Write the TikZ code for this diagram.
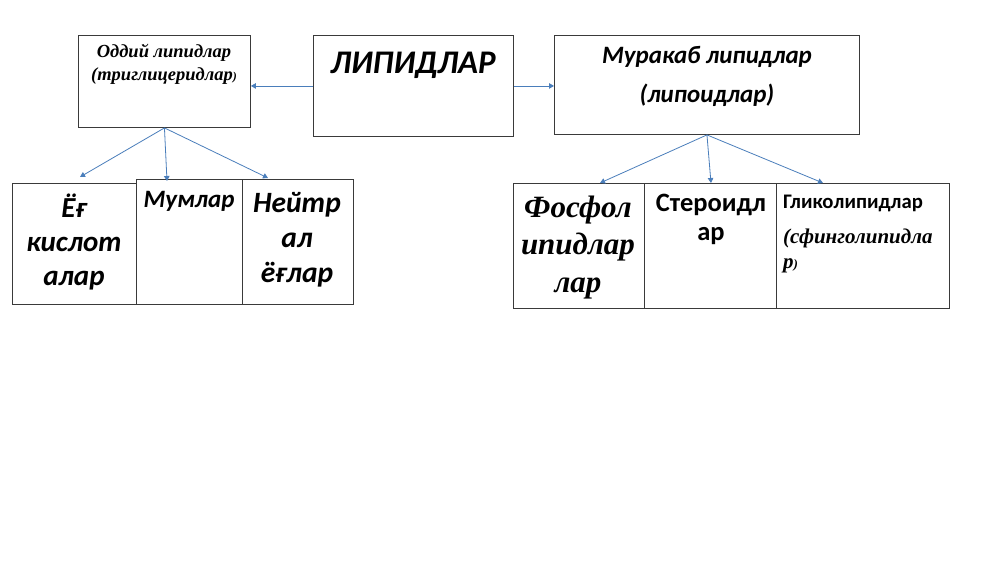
\documentclass[tikz,border=0pt]{standalone}
\usepackage{fontspec}
\setmainfont{Liberation Serif}
\newfontfamily\calib{Carlito}
\newfontfamily\tms{Liberation Serif}
\usetikzlibrary{arrows.meta}
\definecolor{boxc}{HTML}{3A3A3A}
\definecolor{arrc}{HTML}{4A7EBB}
\begin{document}
\begin{tikzpicture}[x=1pt,y=-1pt,
  box/.style={draw=boxc,line width=0.9pt,fill=white,inner sep=0pt,anchor=north west},
  txt/.style={inner sep=0pt,align=center,anchor=base},
  conn/.style={draw=arrc,line width=0.8pt,-{Triangle[width=5.5pt,length=5pt]}}]
\useasboundingbox[fill=white] (0,0) rectangle (1000,562);
% boxes
\node[box,minimum width=172pt,minimum height=92pt] (simple) at (78,35) {};
\node[box,minimum width=200pt,minimum height=101pt] (lip) at (313,35) {};
\node[box,minimum width=305pt,minimum height=99pt] (mur) at (554,35) {};
\node[box,minimum width=124pt,minimum height=121pt] (ef) at (12,183) {};
\node[box,minimum width=106pt,minimum height=125pt] (mum) at (136,179) {};
\node[box,minimum width=111pt,minimum height=125pt] (neit) at (242,179) {};
\node[box,minimum width=131pt,minimum height=125pt] (fos) at (513,183) {};
\node[box,minimum width=132pt,minimum height=125pt] (ster) at (644,183) {};
\node[box,minimum width=173pt,minimum height=125pt] (glik) at (776,183) {};
% texts (anchor base = baseline of last line)
\node[txt,font=\tms\bfseries\itshape\fontsize{18.5}{23}\selectfont] (simpleT) at (164,80)
  {Оддий липидлар\\(триглицеридлар{\fontsize{12}{12}\selectfont)}};
\node[txt,font=\calib\bfseries\itshape\fontsize{33}{40}\selectfont] (lipT) at (413,73) {ЛИПИДЛАР};
\node[txt,font=\calib\bfseries\itshape\fontsize{25}{39}\selectfont] (murT) at (707,102)
  {Муракаб липидлар\\(липоидлар)};
\node[txt,font=\calib\bfseries\itshape\fontsize{29}{34}\selectfont] (efT) at (74,285)
  {Ёғ\\кислот\\алар};
\node[txt,font=\calib\bfseries\itshape\fontsize{25}{30}\selectfont] (mumT) at (189,207) {Мумлар};
\node[txt,font=\calib\bfseries\itshape\fontsize{29.5}{35}\selectfont] (neitT) at (297,282)
  {Нейтр\\ал\\ёғлар};
\node[txt,font=\tms\bfseries\itshape\fontsize{31}{37.5}\selectfont] (fosT) at (578,292)
  {Фосфол\\ипидлар\\лар};
\node[txt,font=\calib\bfseries\fontsize{26.5}{29}\selectfont] (sterT) at (711,240)
  {Стероидл\\ар};
\node[txt,font=\calib\bfseries\fontsize{20.7}{20}\selectfont,anchor=base west] (glikT) at (783,208) {Гликолипидлар};
\node[txt,align=left,font=\tms\bfseries\itshape\fontsize{21}{25}\selectfont,anchor=base west] (sfinT) at (783,268)
  {(сфинголипидла\\р{\fontsize{13}{13}\selectfont)}};
% connectors
\coordinate (e1) at (80,177);
\coordinate (e2) at (167,181);
\coordinate (e3) at (268,178);
\coordinate (r1) at (600,183);
\coordinate (r2) at (711,183);
\coordinate (r3) at (823,183);
\draw[conn] (lip.west) -- (simple.east |- lip.west);
\draw[conn] (lip.east) -- (mur.west |- lip.east);
\draw[conn] (simple.south) -- (e1);
\draw[conn] (simple.south) -- (e2);
\draw[conn] (simple.south) -- (e3);
\draw[conn] (mur.south) -- (r1);
\draw[conn] (mur.south) -- (r2);
\draw[conn] (mur.south) -- (r3);
\end{tikzpicture}
\end{document}
